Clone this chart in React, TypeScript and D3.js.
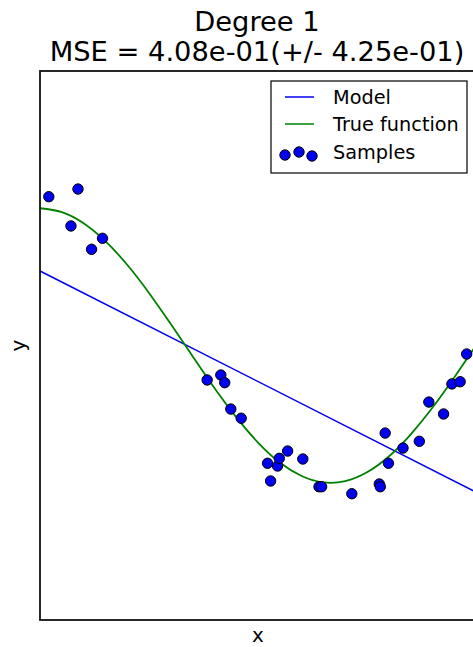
import * as d3 from 'd3';
import { useEffect, useRef } from 'react';

const WIDTH = 473;
const HEIGHT = 647;

// sample points (x sorted, y)
const sampleX = [
    0.0202, 0.071, 0.0871, 0.1183, 0.1434, 0.3834, 0.4147, 0.4237, 0.4376, 0.4615,
    0.5219, 0.5289, 0.5449, 0.5488, 0.568, 0.6028, 0.6399, 0.6459, 0.7152, 0.7782,
    0.7805, 0.7917, 0.7992, 0.8326, 0.87, 0.8918, 0.9256, 0.9447, 0.9637, 0.9786,
];
const sampleY = [
    1.084, 0.871, 1.14, 0.701, 0.781, -0.251, -0.215, -0.271, -0.463, -0.53,
    -0.858, -0.987, -0.878, -0.822, -0.769, -0.827, -1.029, -1.029, -1.08, -1.009,
    -1.029, -0.638, -0.858, -0.747, -0.698, -0.412, -0.499, -0.28, -0.264, -0.062,
];

// true function, read every 0.05 along x
const trueX = [
    0, 0.05, 0.1, 0.15, 0.2, 0.25, 0.3, 0.35, 0.4, 0.45, 0.5,
    0.55, 0.6, 0.65, 0.7, 0.75, 0.8, 0.85, 0.9, 0.95, 1,
];
const trueY = [
    1, 0.972, 0.891, 0.76, 0.588, 0.383, 0.156, -0.078, -0.309, -0.522, -0.707,
    -0.853, -0.951, -0.997, -0.988, -0.924, -0.809, -0.649, -0.454, -0.233, 0,
];

// degree-1 model, ends of the fitted line
const modelX = [0, 1];
const modelY = [0.543, -1.068];

const titleLines = ['Degree 1', 'MSE = 4.08e-01(+/- 4.25e-01)'];
const legendLabels = ['Model', 'True function', 'Samples'];

const BLUE = '#0000f0';
const GREEN = '#008000';
const FONT = '"DejaVu Sans", sans-serif';

export default function App() {
    const svgRef = useRef<SVGSVGElement | null>(null);

    useEffect(() => {
        if (!svgRef.current) {
            return;
        }
        const svg = d3.select(svgRef.current);
        svg.selectAll('*').remove();

        const left = 40;
        const right = 476;
        const top = 71;
        const bottom = 620;

        const x = d3.scaleLinear().domain([0, 1]).range([left, right]);
        const y = d3.scaleLinear().domain([-2, 2]).range([bottom, top]);

        svg.append('rect')
            .attr('width', WIDTH)
            .attr('height', HEIGHT)
            .attr('fill', '#fff');

        const plot = svg.append('g');

        const line = d3
            .line<[number, number]>()
            .x((d) => x(d[0]))
            .y((d) => y(d[1]));

        plot.append('path')
            .datum(modelX.map((v, i) => [v, modelY[i]] as [number, number]))
            .attr('fill', 'none')
            .attr('stroke', BLUE)
            .attr('stroke-width', 1.5)
            .attr('d', line);

        plot.append('path')
            .datum(trueX.map((v, i) => [v, trueY[i]] as [number, number]))
            .attr('fill', 'none')
            .attr('stroke', GREEN)
            .attr('stroke-width', 1.8)
            .attr('d', line.curve(d3.curveNatural));

        plot.selectAll('circle.sample')
            .data(sampleX.map((v, i) => [v, sampleY[i]]))
            .join('circle')
            .attr('class', 'sample')
            .attr('cx', (d) => x(d[0]))
            .attr('cy', (d) => y(d[1]))
            .attr('r', 5.2)
            .attr('fill', BLUE)
            .attr('stroke', '#000')
            .attr('stroke-width', 1);

        // axes frame, no ticks
        svg.append('rect')
            .attr('x', left)
            .attr('y', top)
            .attr('width', right - left)
            .attr('height', bottom - top)
            .attr('fill', 'none')
            .attr('stroke', '#111')
            .attr('stroke-width', 1.8);

        const mid = (left + right) / 2;
        titleLines.forEach((t, i) => {
            svg.append('text')
                .attr('x', mid - 1)
                .attr('y', 31 + i * 30)
                .attr('text-anchor', 'middle')
                .attr('font-family', FONT)
                .attr('font-size', 27.3)
                .attr('fill', '#000')
                .text(t);
        });

        svg.append('text')
            .attr('x', mid)
            .attr('y', 642)
            .attr('text-anchor', 'middle')
            .attr('font-family', FONT)
            .attr('font-size', 20)
            .text('x');

        svg.append('text')
            .attr('transform', `translate(25,${(top + bottom) / 2}) rotate(-90)`)
            .attr('text-anchor', 'middle')
            .attr('font-family', FONT)
            .attr('font-size', 20)
            .text('y');

        // legend
        const lg = svg.append('g').attr('transform', 'translate(271,81)');
        lg.append('rect')
            .attr('width', 196)
            .attr('height', 92)
            .attr('fill', '#fff')
            .attr('stroke', '#000')
            .attr('stroke-width', 1.2);

        const rowY = [16, 43, 71];
        [BLUE, GREEN].forEach((c, i) => {
            lg.append('line')
                .attr('x1', 14)
                .attr('x2', 43)
                .attr('y1', rowY[i])
                .attr('y2', rowY[i])
                .attr('stroke', c)
                .attr('stroke-width', 1.5);
        });
        const dotX = [14, 28, 41];
        const dotDy = [3, 0, 4];
        dotX.forEach((dx, i) => {
            lg.append('circle')
                .attr('cx', dx)
                .attr('cy', rowY[2] + dotDy[i])
                .attr('r', 5.2)
                .attr('fill', BLUE)
                .attr('stroke', '#000')
                .attr('stroke-width', 1);
        });
        legendLabels.forEach((t, i) => {
            lg.append('text')
                .attr('x', 62)
                .attr('y', rowY[i])
                .attr('dy', '0.35em')
                .attr('font-family', FONT)
                .attr('font-size', 19.3)
                .attr('fill', '#000')
                .text(t);
        });
    }, []);

    return (
        <div style={{ position: 'fixed', left: 0, top: 0, width: WIDTH, height: HEIGHT, overflow: 'hidden' }}>
            <svg ref={svgRef} width={WIDTH} height={HEIGHT} style={{ display: 'block' }} />
        </div>
    );
}
